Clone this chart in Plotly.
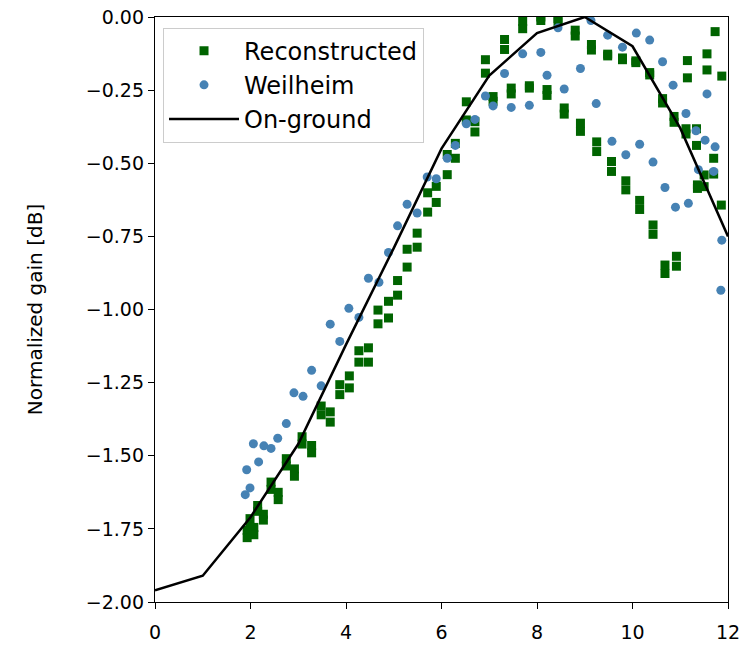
import plotly.graph_objects as go

# On-ground (line)
ground_x = [0, 1, 2, 3, 4, 5, 6, 7, 8, 9, 10, 11, 12]
ground_y = [-1.96, -1.91, -1.71, -1.46, -1.12, -0.79, -0.45, -0.20, -0.055, 0.0, -0.10, -0.38, -0.75]

# Reconstructed (green squares)
rec_x = [1.93, 1.93, 1.99, 1.99, 2.07, 2.07, 2.15, 2.15, 2.27, 2.27, 2.43, 2.43, 2.58, 2.58,
         2.75, 2.75, 2.92, 2.92, 3.08, 3.08, 3.28, 3.28, 3.48, 3.48, 3.67, 3.67, 3.87, 3.87,
         4.07, 4.07, 4.27, 4.27, 4.47, 4.47, 4.67, 4.67, 4.89, 4.89, 5.08, 5.08, 5.28, 5.28,
         5.49, 5.49, 5.71, 5.71, 5.89, 5.89, 6.12, 6.12, 6.29, 6.29, 6.52, 6.52, 6.70, 6.70,
         6.92, 6.92, 7.08, 7.08, 7.32, 7.32, 7.46, 7.46, 7.70, 7.70, 7.84, 7.84, 8.08, 8.08,
         8.21, 8.21, 8.44, 8.44, 8.57, 8.57, 8.80, 8.80, 8.91, 8.91, 9.14, 9.14, 9.25, 9.25,
         9.48, 9.48, 9.56, 9.56, 9.79, 9.79, 9.86, 9.86, 10.07, 10.07, 10.15, 10.15,
         10.36, 10.36, 10.43, 10.43, 10.63, 10.63, 10.68, 10.68, 10.87, 10.87, 10.92, 10.92,
         11.12, 11.12, 11.15, 11.15, 11.34, 11.34, 11.36, 11.36, 11.50, 11.50, 11.56, 11.56,
         11.70, 11.70, 11.73, 11.86, 11.87]
rec_y = [-1.755, -1.78, -1.715, -1.745, -1.745, -1.77, -1.67, -1.69, -1.70, -1.72, -1.59, -1.615,
         -1.625, -1.65, -1.51, -1.535, -1.545, -1.57, -1.435, -1.46, -1.465, -1.49, -1.33, -1.36,
         -1.35, -1.385, -1.257, -1.291, -1.227, -1.268, -1.141, -1.180, -1.131, -1.180,
         -1.002, -1.049, -0.972, -1.029, -0.901, -0.951, -0.794, -0.855, -0.739, -0.787,
         -0.601, -0.667, -0.579, -0.634, -0.47, -0.539, -0.432, -0.483, -0.29, -0.352,
         -0.358, -0.393, -0.146, -0.192, -0.272, -0.288, -0.077, -0.111, -0.243, -0.263,
         -0.015, -0.04, -0.235, -0.243, 0.0, -0.012, -0.248, -0.268, -0.005, -0.016,
         -0.311, -0.332, -0.045, -0.065, -0.363, -0.391, -0.094, -0.113, -0.427, -0.46,
         -0.127, -0.133, -0.494, -0.528, -0.14, -0.146, -0.56, -0.591, -0.15, -0.156,
         -0.627, -0.658, -0.19, -0.198, -0.711, -0.743, -0.279, -0.294, -0.848, -0.877,
         -0.34, -0.36, -0.818, -0.852, -0.382, -0.40, -0.149, -0.208, -0.382, -0.439,
         -0.574, -0.586, -0.54, -0.58, -0.126, -0.181, -0.483, -0.537, -0.05, -0.643, -0.202]

# Weilheim (blue circles)
wei_x = [1.89, 1.99, 1.92, 2.06, 2.17, 2.28, 2.43, 2.57, 2.75, 2.91, 3.10, 3.28, 3.48, 3.67,
         3.87, 4.06, 4.27, 4.47, 4.69, 4.89, 5.08, 5.28, 5.49, 5.70, 5.89, 6.12, 6.29, 6.52,
         6.70, 6.92, 7.08, 7.32, 7.46, 7.70, 7.84, 8.08, 8.21, 8.44, 8.57, 8.91, 9.13, 9.24,
         9.48, 9.57, 9.79, 9.86, 10.08, 10.15, 10.36, 10.43, 10.63, 10.68, 10.85, 10.90,
         11.12, 11.17, 11.33, 11.38, 11.52, 11.56, 11.70, 11.73, 11.85, 11.87]
wei_y = [-1.633, -1.61, -1.548, -1.459, -1.521, -1.466, -1.475, -1.44, -1.39, -1.285, -1.297,
         -1.208, -1.261, -1.050, -1.109, -0.996, -1.027, -0.893, -0.907, -0.805, -0.714,
         -0.640, -0.670, -0.547, -0.553, -0.483, -0.439, -0.365, -0.350, -0.27, -0.304,
         -0.193, -0.309, -0.126, -0.302, -0.121, -0.199, -0.037, -0.246, -0.176, -0.012,
         -0.296, -0.062, -0.425, -0.103, -0.471, -0.055, -0.435, -0.079, -0.496, -0.153,
         -0.583, -0.233, -0.65, -0.330, -0.637, -0.389, -0.522, -0.421, -0.263, -0.528,
         -0.444, -0.934, -0.763]

x_ticks = [0, 2, 4, 6, 8, 10, 12]

fig = go.Figure()
fig.add_trace(go.Scatter(x=rec_x, y=rec_y, mode="markers", name="Reconstructed",
                         marker=dict(symbol="square", size=9, color="#006400",
                                     line=dict(width=0))))
fig.add_trace(go.Scatter(x=wei_x, y=wei_y, mode="markers", name="Weilheim",
                         marker=dict(symbol="circle", size=9, color="#4682B4",
                                     line=dict(width=0))))
fig.add_trace(go.Scatter(x=ground_x, y=ground_y, mode="lines", name="On-ground",
                         line=dict(color="black", width=2.5)))

axis_common = dict(showgrid=False, zeroline=False, showline=True, mirror=True,
                   linecolor="black", linewidth=1.3, ticks="outside", ticklen=6,
                   tickwidth=1.3, tickcolor="black", automargin=False,
                   tickfont=dict(family="DejaVu Sans", size=19, color="black"))

fig.update_xaxes(range=[0, 12], tickvals=x_ticks, ticklabelstandoff=7, **axis_common)
fig.update_yaxes(range=[-2, 0], dtick=0.25, tick0=0, tickformat=".2f",
                 title=dict(text="Normalized gain [dB]",
                            font=dict(family="DejaVu Sans", size=20, color="black"),
                            standoff=37),
                 **axis_common)

fig.update_layout(
    width=749, height=645,
    margin=dict(l=155, r=21, t=17, b=43),
    paper_bgcolor="white", plot_bgcolor="white",
    showlegend=True,
    legend=dict(x=0.014, y=0.982, xanchor="left", yanchor="top",
                bgcolor="white", bordercolor="#cccccc", borderwidth=1,
                font=dict(family="DejaVu Sans", size=24, color="black"),
                itemwidth=70),
)

fig.write_html("out.html")
